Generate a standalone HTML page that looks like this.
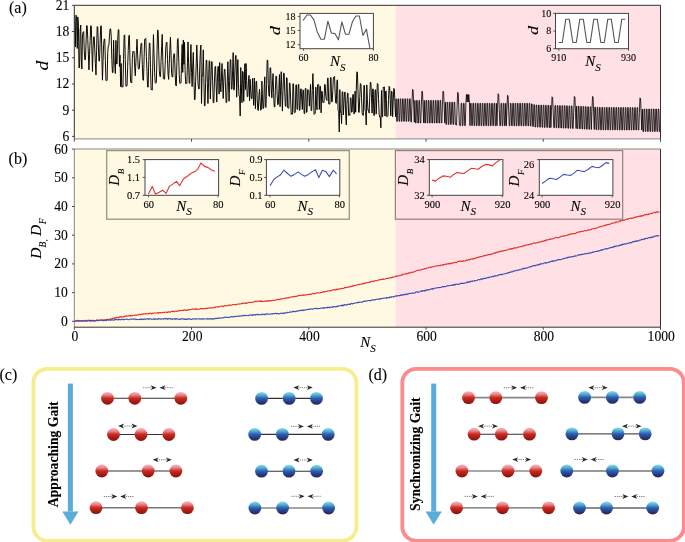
<!DOCTYPE html><html><head><meta charset="utf-8"><style>html,body{margin:0;padding:0;background:#fff;}svg{display:block;will-change:transform;} text{stroke:#000;stroke-width:0.1px;}</style></head><body><svg width="685" height="542" viewBox="0 0 685 542" font-family="'Liberation Serif', serif">
<defs><radialGradient id="rg" cx="0.5" cy="0.3" r="0.7"><stop offset="0" stop-color="#f6b8c0"/><stop offset="0.45" stop-color="#d32a2c"/><stop offset="1" stop-color="#7c1010"/></radialGradient><linearGradient id="rl" x1="0" y1="0" x2="0" y2="1"><stop offset="0" stop-color="#f6b3bb"/><stop offset="0.22" stop-color="#ec8c92"/><stop offset="0.5" stop-color="#c9291f"/><stop offset="0.85" stop-color="#9c1713"/><stop offset="1" stop-color="#821010"/></linearGradient><linearGradient id="bl" x1="0" y1="0" x2="0" y2="1"><stop offset="0" stop-color="#88dde4"/><stop offset="0.22" stop-color="#5ab2d6"/><stop offset="0.5" stop-color="#2a5eb2"/><stop offset="0.85" stop-color="#28316f"/><stop offset="1" stop-color="#2a2556"/></linearGradient></defs>
<rect width="685" height="542" fill="#fff"/>
<rect x="74.3" y="5.3" width="321.09999999999997" height="133.6" fill="#fff8e3"/>
<rect x="395.4" y="5.3" width="265.1" height="133.6" fill="#ffe1e5"/>
<polyline points="74.30,15.5 74.89,17.0 75.47,47.0 76.06,15.2 76.64,16.5 77.23,48.5 77.82,17.0 78.40,24.0 78.99,68.0 79.58,67.0 80.16,30.0 80.75,25.0 81.33,60.0 81.92,69.0 82.51,34.5 83.09,32.4 83.68,31.6 84.27,51.1 84.85,59.8 85.44,59.7 86.02,42.9 86.61,25.6 87.20,25.8 87.78,39.5 88.37,54.0 88.95,69.9 89.54,54.4 90.13,40.5 90.71,25.7 91.30,26.1 91.89,48.9 92.47,71.5 93.06,49.1 93.64,36.9 94.23,36.7 94.82,50.0 95.40,63.6 95.99,75.0 96.58,50.3 97.16,26.5 97.75,26.9 98.33,45.0 98.92,61.1 99.51,61.0 100.09,43.6 100.68,26.1 101.27,25.8 101.85,54.8 102.44,80.2 103.02,61.3 103.61,44.6 104.20,39.0 104.78,39.1 105.37,60.7 105.95,80.5 106.54,80.6 107.13,80.3 107.71,52.5 108.30,45.7 108.89,45.5 109.47,35.9 110.06,28.9 110.64,28.9 111.23,35.9 111.82,59.5 112.40,72.6 112.99,72.6 113.58,40.3 114.16,62.1 114.75,63.9 115.33,73.5 115.92,40.3 116.51,63.9 117.09,63.9 117.68,40.3 118.27,29.8 118.85,29.8 119.44,66.5 120.02,55.1 120.61,86.6 121.20,63.5 121.78,87.1 122.37,86.7 122.95,87.2 123.54,59.6 124.13,35.5 124.71,34.9 125.30,59.6 125.89,86.1 126.47,86.2 127.06,85.8 127.64,67.3 128.23,50.5 128.82,35.7 129.40,35.2 129.99,61.4 130.58,82.1 131.16,82.2 131.75,83.0 132.33,58.4 132.92,51.3 133.51,52.2 134.09,51.6 134.68,67.4 135.26,75.8 135.85,62.8 136.44,50.7 137.02,39.2 137.61,54.2 138.20,67.4 138.78,69.2 139.37,68.2 139.95,57.7 140.54,49.6 141.13,43.2 141.71,43.4 142.30,64.8 142.89,79.9 143.47,80.3 144.06,60.5 144.64,39.3 145.23,39.1 145.82,38.4 146.40,56.4 146.99,71.7 147.57,87.0 148.16,87.2 148.75,60.7 149.33,42.8 149.92,43.5 150.51,67.5 151.09,89.8 151.68,89.6 152.26,90.1 152.85,60.2 153.44,34.7 154.02,53.3 154.61,72.7 155.20,82.6 155.78,83.3 156.37,82.2 156.95,56.1 157.54,30.0 158.13,30.5 158.71,51.1 159.30,70.4 159.89,76.5 160.47,76.6 161.06,61.4 161.64,46.7 162.23,34.4 162.82,61.5 163.40,78.6 163.99,79.3 164.57,79.0 165.16,64.3 165.75,48.1 166.33,42.6 166.92,42.0 167.51,59.5 168.09,74.4 168.68,79.4 169.26,63.3 169.85,49.6 170.44,37.1 171.02,54.0 171.61,73.4 172.20,77.0 172.78,77.0 173.37,58.2 173.95,53.6 174.54,54.0 175.13,73.6 175.71,85.1 176.30,86.0 176.88,62.6 177.47,39.5 178.06,38.5 178.64,56.0 179.23,74.3 179.82,83.4 180.40,83.0 180.99,82.9 181.57,61.7 182.16,44.4 182.75,72.4 183.33,40.0 183.92,64.4 184.51,42.2 185.09,70.6 185.68,83.7 186.26,83.4 186.85,83.4 187.44,62.8 188.02,41.9 188.61,63.9 189.20,83.3 189.78,83.1 190.37,62.3 190.95,44.5 191.54,72.4 192.13,86.6 192.71,66.0 193.30,52.4 193.88,77.2 194.47,99.6 195.06,99.6 195.64,81.4 196.23,63.8 196.82,45.1 197.40,62.9 197.99,83.0 198.57,88.7 199.16,89.0 199.75,66.3 200.33,50.9 200.92,45.0 201.51,103.4 202.09,75.0 202.68,75.6 203.26,49.8 203.85,78.5 204.44,105.7 205.02,105.9 205.61,82.8 206.19,60.3 206.78,60.1 207.37,83.7 207.95,103.6 208.54,82.8 209.13,60.7 209.71,61.1 210.30,98.8 210.88,80.8 211.47,61.9 212.06,61.5 212.64,81.5 213.23,102.5 213.82,103.0 214.40,83.1 214.99,66.9 215.57,66.3 216.16,84.8 216.75,102.1 217.33,82.7 217.92,66.3 218.51,66.6 219.09,94.1 219.68,62.5 220.26,82.3 220.85,91.8 221.44,76.9 222.02,63.5 222.61,81.9 223.19,98.5 223.78,81.0 224.37,69.4 224.95,69.3 225.54,87.0 226.13,102.8 226.71,102.4 227.30,81.0 227.88,61.7 228.47,81.4 229.06,101.3 229.64,80.4 230.23,59.7 230.82,59.8 231.40,89.1 231.99,88.9 232.57,71.9 233.16,52.6 233.75,90.2 234.33,89.5 234.92,70.0 235.50,55.7 236.09,55.4 236.68,97.2 237.26,76.4 237.85,59.6 238.44,83.4 239.02,96.1 239.61,96.4 240.19,116.0 240.78,67.5 241.37,86.0 241.95,102.7 242.54,71.3 243.13,72.1 243.71,101.5 244.30,80.8 244.88,63.7 245.47,89.6 246.06,63.5 246.64,80.9 247.23,96.7 247.82,96.6 248.40,81.9 248.99,75.4 249.57,100.9 250.16,79.3 250.75,91.3 251.33,98.4 251.92,98.7 252.50,78.4 253.09,93.4 253.68,105.3 254.26,78.0 254.85,95.2 255.44,108.8 256.02,81.4 256.61,81.3 257.19,98.7 257.78,109.9 258.37,110.5 258.95,95.3 259.54,89.1 260.13,101.8 260.71,110.3 261.30,109.5 261.88,81.1 262.47,98.1 263.06,108.7 263.64,108.1 264.23,86.5 264.82,76.8 265.40,106.7 265.99,107.5 266.57,84.4 267.16,60.3 267.75,60.2 268.33,84.3 268.92,95.8 269.50,96.5 270.09,67.8 270.68,67.8 271.26,88.0 271.85,97.8 272.44,84.0 273.02,73.6 273.61,92.6 274.19,106.7 274.78,107.2 275.37,90.3 275.95,75.9 276.54,76.4 277.13,94.6 277.71,104.8 278.30,104.0 278.88,88.4 279.47,74.5 280.06,106.7 280.64,87.9 281.23,71.7 281.81,90.8 282.40,111.1 282.99,90.8 283.57,73.1 284.16,73.3 284.75,92.1 285.33,105.9 285.92,106.5 286.50,77.8 287.09,77.9 287.68,107.9 288.26,108.3 288.85,108.1 289.44,83.0 290.02,83.1 290.61,99.2 291.19,114.3 291.78,113.3 292.37,114.3 292.95,83.6 293.54,84.0 294.12,112.5 294.71,112.8 295.30,112.2 295.88,85.0 296.47,84.9 297.06,109.5 297.64,109.2 298.23,84.7 298.81,84.1 299.40,110.5 299.99,110.1 300.57,89.1 301.16,88.7 301.75,100.2 302.33,109.5 302.92,89.8 303.50,90.3 304.09,113.4 304.68,113.7 305.26,88.7 305.85,88.2 306.44,112.4 307.02,112.0 307.61,89.6 308.19,90.6 308.78,90.3 309.37,106.1 309.95,96.0 310.54,84.3 311.12,110.6 311.71,110.5 312.30,90.4 312.88,73.6 313.47,90.2 314.06,114.4 314.64,113.7 315.23,113.4 315.81,87.2 316.40,100.9 316.99,109.8 317.57,84.8 318.16,84.4 318.75,84.6 319.33,109.4 319.92,86.4 320.50,86.4 321.09,112.8 321.68,91.1 322.26,92.0 322.85,102.6 323.44,102.3 324.02,102.6 324.61,84.5 325.19,84.6 325.78,96.6 326.37,99.3 326.95,100.5 327.54,78.2 328.12,78.1 328.71,104.0 329.30,104.2 329.88,104.0 330.47,77.6 331.06,77.5 331.64,101.8 332.23,101.8 332.81,90.2 333.40,77.4 333.99,77.4 334.57,76.5 335.16,93.8 335.75,103.0 336.33,103.4 336.92,80.8 337.50,79.8 338.09,110.4 338.68,111.0 339.26,132.0 339.85,89.7 340.43,112.3 341.02,112.4 341.61,123.6 342.19,92.0 342.78,91.6 343.37,115.0 343.95,103.7 344.54,92.3 345.12,92.0 345.71,115.4 346.30,125.0 346.88,104.4 347.47,93.0 348.06,93.5 348.64,115.4 349.23,114.3 349.81,115.4 350.40,97.8 350.99,97.9 351.57,112.2 352.16,112.0 352.75,95.0 353.33,94.2 353.92,114.1 354.50,113.4 355.09,91.2 355.68,112.2 356.26,90.0 356.85,71.8 357.43,72.6 358.02,92.0 358.61,112.2 359.19,112.4 359.78,96.5 360.37,83.5 360.95,84.3 361.54,97.9 362.12,112.4 362.71,115.1 363.30,115.3 363.88,85.4 364.47,85.5 365.06,110.3 365.64,111.1 366.23,125.0 366.81,84.9 367.40,99.6 367.99,110.6 368.57,110.1 369.16,113.1 369.74,96.0 370.33,82.1 370.92,82.9 371.50,97.6 372.09,113.1 372.68,88.9 373.26,89.0 373.85,115.5 374.43,115.3 375.02,90.2 375.61,89.7 376.19,114.1 376.78,97.3 377.37,83.5 377.95,84.3 378.54,98.8 379.12,114.1 379.71,117.1 380.30,116.9 380.88,127.8 381.47,90.5 382.06,116.7 382.64,116.8 383.23,87.0 383.81,87.3 384.40,86.9 384.99,116.1 385.57,91.6 386.16,90.8 386.74,116.7 387.33,116.5 387.92,115.9 388.50,99.6 389.09,86.3 389.68,87.1 390.26,101.1 390.85,115.9 391.43,91.1 392.02,91.9 392.61,116.7 393.19,101.1 393.78,88.4 394.37,89.2 394.95,102.5 395.54,116.7" fill="none" stroke="#000" stroke-width="0.95" stroke-linejoin="round"/>
<polyline points="395.54,116.7 396.12,98.8 396.71,121.3 397.30,121.3 397.88,98.8 398.47,98.8 399.05,121.3 399.64,121.3 400.23,98.8 400.81,98.8 401.40,121.3 401.99,121.3 402.57,98.8 403.16,98.8 403.74,121.3 404.33,121.3 404.92,98.8 405.50,98.8 406.09,121.3 406.68,121.3 407.26,98.8 407.85,98.8 408.43,121.3 409.02,121.3 409.61,98.8 410.19,98.8 410.78,121.3 411.37,122.2 411.95,104.1 412.54,89.3 413.12,90.1 413.71,105.8 414.30,122.2 414.88,100.4 415.47,123.0 416.05,123.0 416.64,100.4 417.23,100.4 417.81,123.0 418.40,123.0 418.99,100.4 419.57,100.4 420.16,123.0 420.74,123.0 421.33,105.5 421.92,91.1 422.50,91.9 423.09,107.0 423.68,123.0 424.26,100.4 424.85,123.0 425.43,123.0 426.02,100.4 426.61,100.4 427.19,123.0 427.78,123.0 428.36,100.4 428.95,100.4 429.54,123.0 430.12,123.0 430.71,100.4 431.30,100.4 431.88,123.0 432.47,123.0 433.05,100.4 433.64,100.4 434.23,123.0 434.81,123.0 435.40,100.4 435.99,100.4 436.57,123.0 437.16,123.0 437.74,100.4 438.33,100.4 438.92,123.0 439.50,123.0 440.09,100.4 440.68,100.4 441.26,123.0 441.85,123.0 442.43,105.5 443.02,91.1 443.61,91.9 444.19,107.1 444.78,123.0 445.36,102.2 445.95,124.4 446.54,124.4 447.12,102.2 447.71,102.2 448.30,124.4 448.88,124.4 449.47,102.2 450.05,102.2 450.64,124.4 451.23,124.4 451.81,102.2 452.40,102.2 452.99,124.4 453.57,124.4 454.16,102.2 454.74,102.2 455.33,124.4 455.92,124.4 456.50,125.2 457.09,107.1 457.67,92.3 458.26,93.1 458.85,108.8 459.43,125.2 460.02,125.6 460.61,125.6 461.19,103.3 461.78,103.3 462.36,125.6 462.95,125.6 463.54,103.3 464.12,103.3 464.71,125.6 465.30,125.6 465.88,103.3 466.47,94.5 467.05,102.0 467.64,94.5 468.23,102.0 468.81,94.5 469.40,102.0 469.99,125.6 470.57,103.3 471.16,103.3 471.74,125.6 472.33,125.6 472.92,103.3 473.50,103.3 474.09,125.6 474.67,125.6 475.26,103.3 475.85,103.3 476.43,125.7 477.02,125.7 477.61,103.3 478.19,103.3 478.78,125.7 479.36,125.7 479.95,103.3 480.54,103.3 481.12,125.7 481.71,125.7 482.30,103.3 482.88,103.3 483.47,125.7 484.05,125.7 484.64,103.3 485.23,103.3 485.81,125.7 486.40,125.7 486.98,103.3 487.57,103.3 488.16,125.7 488.74,125.7 489.33,103.3 489.92,103.3 490.50,125.7 491.09,125.7 491.67,103.3 492.26,103.3 492.85,125.7 493.43,125.7 494.02,103.3 494.61,103.3 495.19,125.7 495.78,125.7 496.36,103.3 496.95,125.7 497.54,108.1 498.12,93.7 498.71,94.5 499.30,109.7 499.88,125.7 500.47,125.7 501.05,103.3 501.64,103.3 502.23,125.7 502.81,125.7 503.40,103.3 503.98,103.3 504.57,125.7 505.16,125.7 505.74,103.3 506.33,125.7 506.92,108.9 507.50,95.2 508.09,96.0 508.67,110.5 509.26,125.7 509.85,125.7 510.43,103.3 511.02,103.3 511.61,125.7 512.19,125.8 512.78,103.3 513.36,103.3 513.95,125.8 514.54,125.8 515.12,103.3 515.71,103.3 516.29,125.8 516.88,125.8 517.47,103.3 518.05,103.3 518.64,125.8 519.23,125.8 519.81,103.3 520.40,103.3 520.98,125.8 521.57,125.8 522.16,103.3 522.74,103.3 523.33,125.8 523.92,125.8 524.50,103.3 525.09,103.3 525.67,125.8 526.26,125.8 526.85,103.3 527.43,103.3 528.02,125.8 528.61,125.8 529.19,103.3 529.78,103.3 530.36,125.9 530.95,126.0 531.54,103.8 532.12,104.0 532.71,126.5 533.29,126.6 533.88,104.6 534.47,104.8 535.05,127.0 535.64,127.0 536.23,105.0 536.81,105.0 537.40,127.1 537.98,127.1 538.57,105.1 539.16,105.1 539.74,127.2 540.33,127.2 540.92,105.1 541.50,105.2 542.09,127.3 542.67,127.3 543.26,105.2 543.85,105.2 544.43,127.4 545.02,127.4 545.60,105.3 546.19,105.3 546.78,127.4 547.36,127.5 547.95,105.3 548.54,105.3 549.12,127.5 549.71,127.6 550.29,105.4 550.88,127.6 551.47,110.7 552.05,96.8 552.64,97.6 553.23,112.2 553.81,127.6 554.40,127.7 554.98,105.5 555.57,105.5 556.16,127.8 556.74,127.8 557.33,105.6 557.92,105.6 558.50,127.9 559.09,127.9 559.67,105.6 560.26,105.6 560.85,128.0 561.43,128.0 562.02,105.7 562.60,105.7 563.19,128.1 563.78,128.1 564.36,105.7 564.95,105.7 565.54,128.1 566.12,128.2 566.71,105.8 567.29,105.8 567.88,128.2 568.47,128.3 569.05,105.9 569.64,105.9 570.23,128.3 570.81,128.3 571.40,105.9 571.98,105.9 572.57,128.4 573.16,128.5 573.74,110.8 574.33,96.4 574.91,97.2 575.50,112.4 576.09,128.5 576.67,106.1 577.26,128.6 577.85,128.7 578.43,106.2 579.02,106.2 579.60,128.8 580.19,128.8 580.78,106.3 581.36,106.4 581.95,128.9 582.54,128.9 583.12,106.5 583.71,106.5 584.29,129.0 584.88,129.1 585.47,106.6 586.05,106.6 586.64,129.2 587.23,129.2 587.81,106.7 588.40,106.8 588.98,129.3 589.57,129.3 590.16,106.8 590.74,106.9 591.33,129.5 591.91,111.3 592.50,96.4 593.09,97.2 593.67,112.9 594.26,129.5 594.85,107.1 595.43,107.1 596.02,129.7 596.60,129.7 597.19,107.2 597.78,107.3 598.36,129.8 598.95,129.8 599.54,107.4 600.12,107.4 600.71,129.9 601.29,129.9 601.88,107.4 602.47,107.4 603.05,129.9 603.64,129.9 604.22,107.4 604.81,107.4 605.40,129.9 605.98,129.9 606.57,107.4 607.16,107.4 607.74,129.9 608.33,129.9 608.91,107.4 609.50,107.4 610.09,129.9 610.67,129.9 611.26,107.5 611.85,107.5 612.43,129.9 613.02,129.9 613.60,107.5 614.19,107.5 614.78,129.9 615.36,129.9 615.95,107.5 616.53,107.5 617.12,129.9 617.71,129.9 618.29,107.5 618.88,107.5 619.47,129.9 620.05,130.0 620.64,107.5 621.22,107.5 621.81,130.0 622.40,130.0 622.98,107.5 623.57,107.5 624.16,130.0 624.74,130.0 625.33,107.5 625.91,107.5 626.50,130.0 627.09,130.0 627.67,107.5 628.26,107.5 628.85,130.0 629.43,130.0 630.02,107.6 630.60,107.6 631.19,130.0 631.78,130.0 632.36,107.6 632.95,107.6 633.53,130.0 634.12,130.0 634.71,107.6 635.29,107.6 635.88,130.0 636.47,130.0 637.05,107.6 637.64,107.6 638.22,130.0 638.81,130.0 639.40,112.3 639.98,97.8 640.57,98.6 641.16,113.9 641.74,130.0 642.33,109.0 642.91,131.5 643.50,131.5 644.09,109.0 644.67,109.0 645.26,131.5 645.84,131.5 646.43,109.0 647.02,109.0 647.60,131.5 648.19,131.5 648.78,109.0 649.36,109.0 649.95,131.5 650.53,131.5 651.12,109.0 651.71,109.0 652.29,131.5 652.88,131.5 653.47,109.0 654.05,109.0 654.64,131.5 655.22,131.5 655.81,109.0 656.40,109.0 656.98,131.5 657.57,131.5 658.16,109.0 658.74,109.0 659.33,131.5 659.91,131.5 660.50,109.0" fill="none" stroke="#000" stroke-width="0.82" stroke-linejoin="round"/>
<path d="M74.3,138.9 V5.3 H660.5 V138.9" fill="none" stroke="#333" stroke-width="1"/>
<path d="M74.3,138.9 H660.5" fill="none" stroke="#888" stroke-width="1"/>
<path d="M72.0,5.30H74.3M72.0,31.52H74.3M72.0,57.74H74.3M72.0,83.96H74.3M72.0,110.18H74.3M72.0,136.40H74.3M74.30,138.9V141.70000000000002M191.54,138.9V141.70000000000002M308.78,138.9V141.70000000000002M426.02,138.9V141.70000000000002M543.26,138.9V141.70000000000002M660.50,138.9V141.70000000000002" stroke="#333" stroke-width="0.9"/>
<text x="69.3" y="9.80" font-size="13.6" text-anchor="end">21</text>
<text x="69.3" y="36.02" font-size="13.6" text-anchor="end">18</text>
<text x="69.3" y="62.24" font-size="13.6" text-anchor="end">15</text>
<text x="69.3" y="88.46" font-size="13.6" text-anchor="end">12</text>
<text x="69.3" y="114.68" font-size="13.6" text-anchor="end">9</text>
<text x="69.3" y="140.90" font-size="13.6" text-anchor="end">6</text>
<text transform="translate(47.90,65.5) rotate(-90) scale(1.2,1)" font-size="16.3" font-style="italic" text-anchor="middle">d</text>
<text x="9" y="12.6" font-size="16">(a)</text>
<rect x="300" y="13.4" width="73.39999999999998" height="35.300000000000004" fill="#fff" stroke="#444" stroke-width="1"/>
<polyline points="303.1,20.5 306.9,15.0 310.4,15.0 313.9,19.9 317.4,32.3 320.9,39.2 324.4,39.2 327.9,21.2 331.4,33.0 334.9,33.6 338.4,39.8 341.9,21.8 345.4,34.2 348.9,34.2 352.4,21.8 355.9,16.0 359.4,16.0 362.9,35.4 366.4,29.2 369.9,48.5" fill="none" stroke="#555" stroke-width="1.1" stroke-linejoin="round"/>
<path d="M297.7,16.45H300M297.7,30.5H300M297.7,44.7H300M303.4,48.7V50.7M373.4,48.7V50.7" stroke="#444" stroke-width="0.9"/>
<text x="295.6" y="19.8" font-size="10" text-anchor="end">18</text>
<text x="295.6" y="33.8" font-size="10" text-anchor="end">15</text>
<text x="295.6" y="48.0" font-size="10" text-anchor="end">12</text>
<text x="303.4" y="60.7" font-size="10" text-anchor="middle">60</text>
<text x="373.4" y="60.7" font-size="10" text-anchor="middle">80</text>
<text transform="translate(280.30,30.65) rotate(-90) scale(1.22,1)" font-size="15" font-style="italic" text-anchor="middle">d</text>
<text x="330.10" y="66.00" font-size="15" font-style="italic">N<tspan font-size="11" dy="4.5">S</tspan></text>
<rect x="555.5" y="13.4" width="73.0" height="35.300000000000004" fill="#fff" stroke="#444" stroke-width="1"/>
<polyline points="558.8,42.5 562.3,42.5 565.8,19.2 569.3,19.2 572.8,42.5 576.3,42.5 579.8,19.2 583.3,19.2 586.8,42.5 590.3,42.5 593.8,19.2 597.3,19.2 600.8,42.5 604.3,42.5 607.8,19.2 611.3,19.2 614.8,42.5 618.3,42.5 621.8,19.2 625.3,19.2" fill="none" stroke="#555" stroke-width="1.1" stroke-linejoin="round"/>
<path d="M553.2,13.4H555.5M553.2,31.05H555.5M553.2,48.7H555.5M558.8,48.7V50.7M628.5,48.7V50.7" stroke="#444" stroke-width="0.9"/>
<text x="551.3" y="16.7" font-size="10" text-anchor="end">10</text>
<text x="551.3" y="34.4" font-size="10" text-anchor="end">8</text>
<text x="551.3" y="52.0" font-size="10" text-anchor="end">6</text>
<text x="558.8" y="60.7" font-size="10" text-anchor="middle">910</text>
<text x="628.5" y="60.7" font-size="10" text-anchor="middle">930</text>
<text transform="translate(538.00,30.35) rotate(-90) scale(1.22,1)" font-size="15" font-style="italic" text-anchor="middle">d</text>
<text x="585.20" y="66.00" font-size="15" font-style="italic">N<tspan font-size="11" dy="4.5">S</tspan></text>
<rect x="74.3" y="149.0" width="321.09999999999997" height="178.2" fill="#fff8e3"/>
<rect x="395.4" y="149.0" width="265.1" height="178.2" fill="#ffe1e5"/>
<polyline points="74.30,320.56 74.90,320.83 75.50,320.66 76.10,320.86 76.70,320.87 77.30,320.36 77.90,320.30 78.50,321.03 79.10,320.50 79.70,320.47 80.30,321.14 80.90,320.66 81.50,320.98 82.10,320.64 82.70,320.78 83.30,320.33 83.90,320.76 84.50,320.95 85.10,320.63 85.70,320.82 86.30,320.75 86.90,320.19 87.50,320.80 88.10,320.64 88.70,320.37 89.30,320.12 89.90,320.86 90.50,320.49 91.10,320.71 91.70,320.84 92.30,320.68 92.90,320.86 93.50,320.37 94.10,320.73 94.70,320.40 95.30,320.83 95.90,320.77 96.50,320.05 97.10,320.08 97.70,320.11 98.30,320.73 98.90,320.19 99.50,320.30 100.10,319.94 100.70,320.07 101.30,319.89 101.90,319.80 102.50,319.95 103.10,319.89 103.70,320.11 104.30,319.85 104.90,320.01 105.50,319.88 106.10,319.94 106.70,319.59 107.30,319.07 107.90,319.64 108.50,319.67 109.10,319.54 109.70,319.12 110.30,319.14 110.90,318.57 111.50,319.01 112.10,318.66 112.70,318.28 113.30,317.96 113.90,318.56 114.50,318.56 115.10,317.63 115.70,318.15 116.30,317.68 116.90,317.33 117.50,317.34 118.10,317.65 118.70,317.63 119.30,316.76 119.90,317.16 120.50,316.53 121.10,317.05 121.70,316.62 122.30,317.04 122.90,317.06 123.50,316.56 124.10,316.93 124.70,316.23 125.30,315.95 125.90,316.34 126.50,315.76 127.10,315.83 127.70,315.95 128.30,316.05 128.90,315.57 129.50,315.39 130.10,316.06 130.70,315.49 131.30,315.99 131.90,315.86 132.50,315.32 133.10,315.32 133.70,315.30 134.30,315.34 134.90,315.22 135.50,315.11 136.10,315.09 136.70,315.31 137.30,314.84 137.90,314.70 138.50,314.88 139.10,314.37 139.70,314.36 140.30,314.89 140.90,314.40 141.50,314.35 142.10,313.80 142.70,314.09 143.30,314.16 143.90,313.58 144.50,314.07 145.10,314.03 145.70,313.47 146.30,313.94 146.90,313.75 147.50,313.89 148.10,313.55 148.70,313.83 149.30,313.81 149.90,313.12 150.50,313.11 151.10,313.61 151.70,313.83 152.30,313.14 152.90,313.28 153.50,313.36 154.10,313.06 154.70,313.06 155.30,312.97 155.90,312.97 156.50,313.13 157.10,312.82 157.70,312.84 158.30,313.15 158.90,312.43 159.50,312.88 160.10,312.98 160.70,312.55 161.30,312.43 161.90,312.90 162.50,312.35 163.10,312.26 163.70,312.43 164.30,312.62 164.90,312.04 165.50,312.19 166.10,312.16 166.70,312.56 167.30,312.16 167.90,312.47 168.50,311.78 169.10,311.86 169.70,312.07 170.30,312.21 170.90,311.75 171.50,311.47 172.10,311.31 172.70,311.60 173.30,311.22 173.90,311.71 174.50,311.66 175.10,311.00 175.70,311.02 176.30,311.42 176.90,311.20 177.50,311.27 178.10,310.79 178.70,310.52 179.30,310.59 179.90,310.97 180.50,310.43 181.10,310.43 181.70,310.42 182.30,310.35 182.90,310.27 183.50,310.66 184.10,309.90 184.70,309.69 185.30,310.46 185.90,310.33 186.50,310.35 187.10,309.79 187.70,310.18 188.30,310.09 188.90,309.38 189.50,309.78 190.10,309.79 190.70,309.56 191.30,309.39 191.90,309.14 192.50,309.16 193.10,309.02 193.70,308.84 194.30,309.27 194.90,308.96 195.50,309.40 196.10,308.67 196.70,309.41 197.30,309.19 197.90,309.36 198.50,309.30 199.10,309.26 199.70,308.94 200.30,308.39 200.90,309.02 201.50,308.46 202.10,308.54 202.70,308.83 203.30,308.64 203.90,308.48 204.50,308.89 205.10,308.53 205.70,308.23 206.30,308.09 206.90,308.57 207.50,308.17 208.10,308.38 208.70,307.93 209.30,307.73 209.90,307.97 210.50,308.16 211.10,307.52 211.70,308.02 212.30,308.07 212.90,307.91 213.50,307.86 214.10,307.07 214.70,307.55 215.30,307.67 215.90,306.85 216.50,306.97 217.10,306.88 217.70,307.03 218.30,306.85 218.90,306.81 219.50,307.00 220.10,306.22 220.70,306.18 221.30,306.16 221.90,306.07 222.50,305.94 223.10,306.67 223.70,306.48 224.30,305.70 224.90,305.99 225.50,305.74 226.10,305.65 226.70,305.60 227.30,305.78 227.90,305.64 228.50,305.35 229.10,305.11 229.70,305.15 230.30,304.88 230.90,305.19 231.50,305.25 232.10,304.86 232.70,304.51 233.30,304.51 233.90,304.60 234.50,304.72 235.10,304.80 235.70,304.35 236.30,304.64 236.90,304.39 237.50,304.14 238.10,304.00 238.70,304.02 239.30,304.12 239.90,303.78 240.50,303.94 241.10,303.65 241.70,303.37 242.30,303.54 242.90,303.60 243.50,302.95 244.10,303.18 244.70,303.10 245.30,303.42 245.90,303.39 246.50,302.79 247.10,303.18 247.70,303.00 248.30,302.43 248.90,302.53 249.50,302.14 250.10,302.67 250.70,302.45 251.30,302.57 251.90,302.39 252.50,302.20 253.10,302.17 253.70,301.93 254.30,301.43 254.90,301.78 255.50,301.17 256.10,301.21 256.70,301.73 257.30,301.04 257.90,301.05 258.50,301.03 259.10,301.70 259.70,301.04 260.30,300.87 260.90,301.57 261.50,300.89 262.10,301.51 262.70,301.33 263.30,301.45 263.90,301.52 264.50,301.15 265.10,301.32 265.70,300.60 266.30,301.23 266.90,300.97 267.50,301.12 268.10,300.54 268.70,301.09 269.30,301.23 269.90,300.41 270.50,300.62 271.10,300.80 271.70,301.01 272.30,300.41 272.90,300.24 273.50,300.20 274.10,300.41 274.70,300.43 275.30,299.99 275.90,299.86 276.50,299.77 277.10,299.62 277.70,299.57 278.30,299.16 278.90,299.42 279.50,299.73 280.10,299.12 280.70,299.31 281.30,298.67 281.90,299.03 282.50,298.98 283.10,298.80 283.70,298.54 284.30,298.40 284.90,298.43 285.50,298.55 286.10,297.77 286.70,297.61 287.30,298.08 287.90,298.12 288.50,297.65 289.10,297.47 289.70,297.61 290.30,297.02 290.90,296.98 291.50,296.81 292.10,297.05 292.70,296.69 293.30,296.50 293.90,296.81 294.50,296.93 295.10,296.23 295.70,296.48 296.30,296.13 296.90,296.44 297.50,296.10 298.10,295.73 298.70,295.59 299.30,295.32 299.90,295.64 300.50,295.46 301.10,295.18 301.70,295.26 302.30,295.14 302.90,295.45 303.50,294.79 304.10,295.46 304.70,294.91 305.30,294.93 305.90,294.72 306.50,294.96 307.10,294.86 307.70,294.53 308.30,294.37 308.90,294.49 309.50,294.52 310.10,294.02 310.70,294.23 311.30,294.34 311.90,293.81 312.50,293.50 313.10,293.41 313.70,293.76 314.30,293.63 314.90,293.79 315.50,293.61 316.10,292.97 316.70,292.83 317.30,292.80 317.90,292.64 318.50,293.02 319.10,293.06 319.70,293.01 320.30,292.34 320.90,292.80 321.50,292.21 322.10,292.21 322.70,292.37 323.30,291.67 323.90,291.56 324.50,292.10 325.10,291.50 325.70,291.44 326.30,291.52 326.90,291.49 327.50,290.76 328.10,290.94 328.70,290.91 329.30,290.84 329.90,290.47 330.50,290.69 331.10,290.90 331.70,290.28 332.30,290.30 332.90,289.79 333.50,289.81 334.10,290.05 334.70,289.43 335.30,290.01 335.90,289.91 336.50,289.06 337.10,289.70 337.70,289.07 338.30,289.31 338.90,289.18 339.50,288.64 340.10,288.87 340.70,288.73 341.30,288.74 341.90,288.14 342.50,288.46 343.10,288.53 343.70,288.15 344.30,287.91 344.90,287.41 345.50,287.63 346.10,287.38 346.70,287.59 347.30,287.44 347.90,287.22 348.50,286.74 349.10,287.02 349.70,286.87 350.30,286.32 350.90,286.82 351.50,286.47 352.10,285.86 352.70,286.44 353.30,285.59 353.90,285.63 354.50,285.84 355.10,285.59 355.70,285.41 356.30,285.35 356.90,285.04 357.50,284.77 358.10,284.51 358.70,284.28 359.30,284.72 359.90,284.62 360.50,284.29 361.10,284.32 361.70,283.84 362.30,283.62 362.90,283.59 363.50,283.89 364.10,283.00 364.70,283.28 365.30,282.91 365.90,283.24 366.50,282.72 367.10,282.57 367.70,282.49 368.30,282.48 368.90,282.54 369.50,282.03 370.10,282.33 370.70,281.53 371.30,281.54 371.90,281.24 372.50,281.12 373.10,281.58 373.70,281.39 374.30,280.76 374.90,280.64 375.50,280.72 376.10,280.88 376.70,280.82 377.30,280.64 377.90,280.37 378.50,279.84 379.10,279.94 379.70,279.63 380.30,279.81 380.90,279.72 381.50,279.27 382.10,279.18 382.70,279.54 383.30,278.73 383.90,279.30 384.50,279.26 385.10,279.18 385.70,278.55 386.30,278.57 386.90,278.48 387.50,278.40 388.10,278.58 388.70,278.19 389.30,277.72 389.90,278.10 390.50,277.63 391.10,277.61 391.70,277.60 392.30,276.82 392.90,277.39 393.50,277.16 394.10,276.89 394.70,276.79 395.30,276.61 395.90,276.22 396.50,276.36 397.10,275.75 397.70,276.01 398.30,275.98 398.90,275.63 399.50,275.58 400.10,275.77 400.70,275.55 401.30,274.71 401.90,275.14 402.50,274.82 403.10,274.15 403.70,274.26 404.30,273.99 404.90,273.69 405.50,273.94 406.10,274.13 406.70,273.42 407.30,273.75 407.90,273.43 408.50,272.77 409.10,273.26 409.70,272.86 410.30,273.00 410.90,272.64 411.50,272.50 412.10,271.99 412.70,272.24 413.30,272.19 413.90,271.97 414.50,271.42 415.10,271.55 415.70,271.14 416.30,270.64 416.90,270.42 417.50,270.29 418.10,270.24 418.70,270.04 419.30,270.18 419.90,270.20 420.50,269.90 421.10,269.63 421.70,269.67 422.30,269.20 422.90,269.18 423.50,269.29 424.10,268.80 424.70,268.44 425.30,268.93 425.90,268.61 426.50,268.14 427.10,268.02 427.70,268.05 428.30,267.99 428.90,267.53 429.50,267.21 430.10,267.28 430.70,267.67 431.30,266.98 431.90,267.14 432.50,266.79 433.10,266.68 433.70,266.52 434.30,266.61 434.90,266.28 435.50,266.03 436.10,265.99 436.70,265.92 437.30,266.09 437.90,265.58 438.50,265.43 439.10,265.69 439.70,265.54 440.30,265.68 440.90,264.98 441.50,265.17 442.10,265.05 442.70,264.59 443.30,265.32 443.90,264.53 444.50,264.29 445.10,264.52 445.70,264.12 446.30,264.41 446.90,264.04 447.50,263.72 448.10,263.54 448.70,264.02 449.30,263.50 449.90,263.84 450.50,263.43 451.10,263.73 451.70,263.04 452.30,262.87 452.90,262.77 453.50,263.14 454.10,262.86 454.70,262.48 455.30,262.13 455.90,262.54 456.50,262.68 457.10,262.22 457.70,261.57 458.30,261.48 458.90,261.41 459.50,261.36 460.10,261.12 460.70,261.02 461.30,261.44 461.90,261.54 462.50,260.79 463.10,261.37 463.70,260.80 464.30,260.97 464.90,260.96 465.50,260.86 466.10,259.92 466.70,260.04 467.30,260.20 467.90,260.38 468.50,259.48 469.10,259.51 469.70,259.85 470.30,259.04 470.90,259.13 471.50,258.92 472.10,259.08 472.70,259.15 473.30,258.32 473.90,258.67 474.50,258.51 475.10,258.45 475.70,258.04 476.30,258.22 476.90,257.56 477.50,257.45 478.10,257.13 478.70,257.47 479.30,257.04 479.90,256.70 480.50,256.45 481.10,256.79 481.70,256.54 482.30,256.48 482.90,256.03 483.50,255.96 484.10,255.51 484.70,255.86 485.30,255.08 485.90,255.33 486.50,255.43 487.10,255.21 487.70,254.53 488.30,254.50 488.90,254.89 489.50,254.56 490.10,254.61 490.70,254.45 491.30,253.92 491.90,254.16 492.50,253.86 493.10,253.35 493.70,253.23 494.30,252.80 494.90,252.94 495.50,253.29 496.10,252.37 496.70,252.63 497.30,252.06 497.90,251.88 498.50,252.24 499.10,251.72 499.70,251.39 500.30,251.33 500.90,251.61 501.50,251.41 502.10,250.73 502.70,250.78 503.30,251.29 503.90,250.46 504.50,250.61 505.10,250.33 505.70,250.51 506.30,250.20 506.90,250.22 507.50,249.84 508.10,249.38 508.70,249.22 509.30,248.99 509.90,249.51 510.50,248.72 511.10,248.49 511.70,249.19 512.30,248.36 512.90,248.83 513.50,247.96 514.10,248.15 514.70,247.79 515.30,248.19 515.90,247.84 516.50,247.72 517.10,247.68 517.70,247.63 518.30,247.01 518.90,247.10 519.50,246.81 520.10,246.36 520.70,246.86 521.30,246.50 521.90,246.55 522.50,245.85 523.10,246.00 523.70,245.79 524.30,245.88 524.90,245.14 525.50,245.24 526.10,245.22 526.70,244.70 527.30,244.98 527.90,245.00 528.50,244.57 529.10,244.62 529.70,244.44 530.30,243.94 530.90,243.91 531.50,244.35 532.10,243.60 532.70,243.54 533.30,243.08 533.90,243.06 534.50,242.86 535.10,243.40 535.70,243.07 536.30,243.06 536.90,243.01 537.50,242.52 538.10,242.66 538.70,242.16 539.30,241.91 539.90,242.24 540.50,242.05 541.10,241.94 541.70,241.38 542.30,241.49 542.90,241.01 543.50,241.39 544.10,241.18 544.70,240.46 545.30,240.89 545.90,240.07 546.50,239.85 547.10,240.26 547.70,239.73 548.30,239.79 548.90,239.75 549.50,239.06 550.10,239.55 550.70,238.98 551.30,238.97 551.90,238.75 552.50,238.96 553.10,238.81 553.70,238.25 554.30,237.94 554.90,237.97 555.50,237.92 556.10,237.48 556.70,237.40 557.30,237.80 557.90,237.60 558.50,237.70 559.10,237.55 559.70,237.31 560.30,236.71 560.90,236.38 561.50,236.36 562.10,236.35 562.70,236.26 563.30,236.13 563.90,235.82 564.50,236.12 565.10,235.46 565.70,235.47 566.30,235.71 566.90,235.49 567.50,234.88 568.10,234.68 568.70,235.05 569.30,234.18 569.90,234.14 570.50,234.36 571.10,234.21 571.70,233.73 572.30,233.48 572.90,233.47 573.50,233.84 574.10,233.42 574.70,233.73 575.30,233.41 575.90,233.44 576.50,232.44 577.10,232.43 577.70,232.13 578.30,232.36 578.90,232.12 579.50,231.72 580.10,232.02 580.70,231.47 581.30,231.53 581.90,231.33 582.50,231.69 583.10,231.20 583.70,230.92 584.30,230.58 584.90,230.79 585.50,230.83 586.10,230.73 586.70,230.81 587.30,230.57 587.90,229.93 588.50,229.69 589.10,230.11 589.70,229.99 590.30,229.60 590.90,229.74 591.50,229.32 592.10,228.90 592.70,228.63 593.30,228.32 593.90,228.71 594.50,228.76 595.10,228.60 595.70,228.03 596.30,228.04 596.90,228.10 597.50,227.83 598.10,227.46 598.70,227.12 599.30,227.04 599.90,226.56 600.50,226.40 601.10,226.67 601.70,226.78 602.30,226.21 602.90,225.91 603.50,225.69 604.10,225.61 604.70,225.75 605.30,225.26 605.90,225.54 606.50,224.65 607.10,224.62 607.70,224.63 608.30,224.36 608.90,224.58 609.50,224.39 610.10,224.31 610.70,223.85 611.30,223.15 611.90,223.47 612.50,223.28 613.10,223.05 613.70,222.69 614.30,222.90 614.90,222.91 615.50,222.01 616.10,222.35 616.70,221.91 617.30,221.86 617.90,222.03 618.50,221.92 619.10,221.46 619.70,220.89 620.30,221.37 620.90,220.53 621.50,220.55 622.10,220.80 622.70,220.20 623.30,220.01 623.90,220.48 624.50,220.33 625.10,219.62 625.70,219.55 626.30,219.30 626.90,219.02 627.50,218.99 628.10,219.50 628.70,218.54 629.30,218.54 629.90,218.36 630.50,218.11 631.10,218.37 631.70,218.42 632.30,218.36 632.90,218.03 633.50,218.06 634.10,217.18 634.70,217.29 635.30,217.75 635.90,216.81 636.50,216.84 637.10,216.89 637.70,216.55 638.30,216.66 638.90,216.06 639.50,216.09 640.10,216.60 640.70,215.72 641.30,216.26 641.90,215.46 642.50,216.05 643.10,215.62 643.70,215.45 644.30,214.85 644.90,214.63 645.50,215.12 646.10,214.45 646.70,214.32 647.30,214.74 647.90,214.65 648.50,213.76 649.10,214.44 649.70,213.91 650.30,213.63 650.90,213.24 651.50,213.35 652.10,213.74 652.70,212.96 653.30,212.68 653.90,212.55 654.50,212.39 655.10,212.45 655.70,212.81 656.30,211.91 656.90,211.87 657.50,212.40 658.10,212.31 658.70,212.15 659.30,211.34" fill="none" stroke="#e0332f" stroke-width="1.1" stroke-linejoin="round"/>
<polyline points="74.30,320.97 74.90,321.49 75.50,321.06 76.10,321.24 76.70,320.88 77.30,320.60 77.90,320.88 78.50,321.23 79.10,321.25 79.70,321.05 80.30,320.94 80.90,320.99 81.50,320.89 82.10,320.96 82.70,321.22 83.30,320.64 83.90,320.98 84.50,321.27 85.10,321.18 85.70,320.56 86.30,321.26 86.90,321.13 87.50,320.52 88.10,320.59 88.70,320.52 89.30,320.37 89.90,321.19 90.50,320.67 91.10,321.07 91.70,320.38 92.30,320.27 92.90,321.03 93.50,320.95 94.10,321.11 94.70,320.83 95.30,320.67 95.90,320.87 96.50,320.25 97.10,320.64 97.70,320.53 98.30,320.24 98.90,320.61 99.50,320.33 100.10,320.47 100.70,320.32 101.30,320.24 101.90,320.24 102.50,320.43 103.10,320.74 103.70,320.67 104.30,320.57 104.90,320.52 105.50,319.99 106.10,320.58 106.70,319.91 107.30,319.75 107.90,320.06 108.50,320.24 109.10,319.85 109.70,320.10 110.30,319.74 110.90,320.32 111.50,319.83 112.10,319.82 112.70,319.84 113.30,320.12 113.90,320.19 114.50,319.74 115.10,319.64 115.70,319.76 116.30,319.24 116.90,319.53 117.50,319.88 118.10,319.78 118.70,319.11 119.30,319.79 119.90,319.34 120.50,319.84 121.10,319.28 121.70,319.13 122.30,319.43 122.90,319.73 123.50,319.31 124.10,319.70 124.70,319.56 125.30,319.24 125.90,319.18 126.50,319.36 127.10,319.25 127.70,319.23 128.30,319.47 128.90,319.67 129.50,319.40 130.10,319.00 130.70,319.06 131.30,319.19 131.90,319.41 132.50,318.97 133.10,318.92 133.70,319.13 134.30,319.09 134.90,318.85 135.50,319.31 136.10,319.65 136.70,319.29 137.30,319.47 137.90,319.55 138.50,319.55 139.10,319.61 139.70,319.18 140.30,319.40 140.90,318.89 141.50,319.56 142.10,319.11 142.70,319.19 143.30,319.56 143.90,319.01 144.50,318.91 145.10,319.47 145.70,319.26 146.30,318.79 146.90,318.73 147.50,319.01 148.10,318.69 148.70,319.42 149.30,318.83 149.90,318.90 150.50,318.99 151.10,319.09 151.70,319.01 152.30,319.17 152.90,319.19 153.50,318.98 154.10,318.67 154.70,319.45 155.30,319.18 155.90,318.62 156.50,318.93 157.10,319.21 157.70,319.41 158.30,318.57 158.90,318.50 159.50,318.92 160.10,318.86 160.70,319.27 161.30,319.20 161.90,318.74 162.50,318.81 163.10,318.95 163.70,319.21 164.30,318.59 164.90,318.75 165.50,318.46 166.10,318.95 166.70,318.39 167.30,319.19 167.90,318.83 168.50,318.88 169.10,318.45 169.70,318.60 170.30,318.82 170.90,319.18 171.50,318.90 172.10,318.69 172.70,319.32 173.30,319.04 173.90,318.94 174.50,318.65 175.10,318.75 175.70,319.30 176.30,318.62 176.90,318.99 177.50,319.08 178.10,318.85 178.70,319.23 179.30,319.37 179.90,319.33 180.50,319.24 181.10,318.77 181.70,318.65 182.30,318.99 182.90,318.90 183.50,318.80 184.10,319.42 184.70,318.84 185.30,319.40 185.90,319.51 186.50,318.78 187.10,319.51 187.70,319.05 188.30,318.90 188.90,318.89 189.50,318.76 190.10,319.19 190.70,319.09 191.30,319.51 191.90,319.48 192.50,318.76 193.10,319.06 193.70,319.04 194.30,318.84 194.90,318.89 195.50,318.89 196.10,319.26 196.70,318.93 197.30,318.71 197.90,318.80 198.50,318.98 199.10,319.08 199.70,318.78 200.30,319.18 200.90,318.73 201.50,319.13 202.10,319.06 202.70,318.65 203.30,319.16 203.90,318.82 204.50,318.94 205.10,318.98 205.70,319.00 206.30,318.82 206.90,318.46 207.50,319.10 208.10,319.15 208.70,318.81 209.30,318.88 209.90,318.58 210.50,319.14 211.10,318.93 211.70,318.50 212.30,319.03 212.90,319.17 213.50,318.58 214.10,319.15 214.70,318.63 215.30,318.28 215.90,318.69 216.50,318.28 217.10,318.57 217.70,318.36 218.30,317.86 218.90,318.17 219.50,318.39 220.10,317.98 220.70,317.96 221.30,318.18 221.90,317.74 222.50,317.71 223.10,317.72 223.70,317.86 224.30,317.23 224.90,317.06 225.50,317.59 226.10,317.34 226.70,317.06 227.30,317.54 227.90,317.48 228.50,317.12 229.10,317.47 229.70,317.28 230.30,317.15 230.90,316.68 231.50,316.38 232.10,316.93 232.70,316.93 233.30,316.53 233.90,316.59 234.50,316.62 235.10,316.28 235.70,316.63 236.30,316.46 236.90,316.25 237.50,315.95 238.10,316.30 238.70,316.04 239.30,316.35 239.90,315.80 240.50,315.95 241.10,315.72 241.70,315.86 242.30,315.96 242.90,315.49 243.50,315.39 244.10,315.72 244.70,315.42 245.30,315.64 245.90,315.29 246.50,315.18 247.10,315.52 247.70,315.81 248.30,315.71 248.90,315.34 249.50,315.19 250.10,314.84 250.70,314.98 251.30,314.96 251.90,315.47 252.50,314.68 253.10,315.38 253.70,314.90 254.30,314.81 254.90,314.61 255.50,315.18 256.10,314.43 256.70,314.74 257.30,314.66 257.90,314.34 258.50,314.33 259.10,314.99 259.70,314.78 260.30,314.70 260.90,314.82 261.50,314.06 262.10,314.57 262.70,314.58 263.30,314.08 263.90,314.26 264.50,314.69 265.10,314.07 265.70,314.43 266.30,313.86 266.90,314.28 267.50,313.89 268.10,314.08 268.70,313.92 269.30,314.34 269.90,314.19 270.50,313.94 271.10,314.08 271.70,313.81 272.30,314.12 272.90,313.59 273.50,313.82 274.10,313.83 274.70,313.62 275.30,313.28 275.90,313.36 276.50,313.75 277.10,313.33 277.70,313.79 278.30,313.53 278.90,313.90 279.50,313.77 280.10,313.63 280.70,313.28 281.30,312.95 281.90,313.38 282.50,313.52 283.10,313.59 283.70,312.85 284.30,312.73 284.90,313.38 285.50,313.07 286.10,312.75 286.70,312.89 287.30,312.27 287.90,312.54 288.50,312.56 289.10,312.41 289.70,311.93 290.30,311.82 290.90,312.17 291.50,312.31 292.10,311.55 292.70,311.34 293.30,311.32 293.90,311.87 294.50,311.42 295.10,311.39 295.70,311.79 296.30,311.35 296.90,310.95 297.50,311.26 298.10,310.54 298.70,310.70 299.30,310.99 299.90,310.42 300.50,310.21 301.10,310.56 301.70,310.30 302.30,310.79 302.90,309.92 303.50,310.46 304.10,310.00 304.70,310.28 305.30,309.87 305.90,309.98 306.50,309.59 307.10,309.40 307.70,309.52 308.30,309.74 308.90,309.25 309.50,309.09 310.10,309.20 310.70,308.85 311.30,308.99 311.90,309.16 312.50,309.08 313.10,309.06 313.70,308.73 314.30,308.43 314.90,308.37 315.50,308.59 316.10,308.41 316.70,308.68 317.30,308.35 317.90,308.74 318.50,308.53 319.10,308.53 319.70,308.53 320.30,308.28 320.90,308.14 321.50,307.97 322.10,307.69 322.70,308.29 323.30,307.97 323.90,307.55 324.50,308.23 325.10,307.86 325.70,307.84 326.30,307.61 326.90,307.27 327.50,308.00 328.10,307.19 328.70,307.31 329.30,307.82 329.90,306.97 330.50,307.25 331.10,307.18 331.70,306.91 332.30,307.46 332.90,306.94 333.50,306.52 334.10,306.88 334.70,306.39 335.30,306.95 335.90,306.99 336.50,306.91 337.10,306.03 337.70,306.48 338.30,306.04 338.90,306.08 339.50,305.82 340.10,305.71 340.70,305.45 341.30,305.78 341.90,305.19 342.50,305.87 343.10,304.93 343.70,305.65 344.30,304.84 344.90,304.64 345.50,305.12 346.10,304.82 346.70,304.92 347.30,304.58 347.90,304.58 348.50,303.98 349.10,304.40 349.70,304.15 350.30,304.44 350.90,303.47 351.50,303.42 352.10,303.86 352.70,303.97 353.30,303.41 353.90,303.56 354.50,303.31 355.10,303.05 355.70,303.01 356.30,303.02 356.90,302.40 357.50,302.54 358.10,302.82 358.70,302.28 359.30,302.36 359.90,302.05 360.50,302.04 361.10,302.19 361.70,302.17 362.30,302.26 362.90,301.73 363.50,301.38 364.10,301.40 364.70,301.05 365.30,301.11 365.90,301.32 366.50,301.24 367.10,300.81 367.70,300.66 368.30,300.48 368.90,300.45 369.50,300.64 370.10,300.32 370.70,300.78 371.30,300.40 371.90,300.09 372.50,300.07 373.10,299.62 373.70,300.14 374.30,300.06 374.90,299.61 375.50,299.84 376.10,299.33 376.70,299.18 377.30,299.09 377.90,298.96 378.50,299.22 379.10,299.16 379.70,299.13 380.30,298.47 380.90,298.96 381.50,298.60 382.10,298.41 382.70,298.43 383.30,298.26 383.90,297.95 384.50,298.03 385.10,298.15 385.70,298.11 386.30,298.19 386.90,297.44 387.50,297.97 388.10,297.78 388.70,297.60 389.30,297.73 389.90,296.86 390.50,297.33 391.10,297.33 391.70,296.53 392.30,296.85 392.90,297.06 393.50,296.36 394.10,296.76 394.70,296.70 395.30,296.17 395.90,295.80 396.50,295.75 397.10,296.20 397.70,295.73 398.30,295.52 398.90,295.53 399.50,295.86 400.10,295.15 400.70,294.83 401.30,295.56 401.90,294.88 402.50,294.84 403.10,295.26 403.70,294.53 404.30,294.25 404.90,294.86 405.50,294.17 406.10,294.05 406.70,294.58 407.30,293.84 407.90,294.34 408.50,293.72 409.10,293.58 409.70,293.40 410.30,293.58 410.90,293.47 411.50,293.20 412.10,293.17 412.70,292.86 413.30,293.22 413.90,293.18 414.50,292.89 415.10,292.83 415.70,292.03 416.30,292.07 416.90,291.90 417.50,291.73 418.10,292.34 418.70,292.16 419.30,292.04 419.90,291.60 420.50,291.08 421.10,291.23 421.70,290.77 422.30,291.41 422.90,290.71 423.50,290.61 424.10,291.08 424.70,290.28 425.30,290.81 425.90,290.13 426.50,290.32 427.10,289.70 427.70,290.29 428.30,289.71 428.90,289.54 429.50,289.69 430.10,289.51 430.70,289.08 431.30,288.84 431.90,289.12 432.50,288.50 433.10,289.14 433.70,288.54 434.30,288.26 434.90,288.28 435.50,287.96 436.10,288.02 436.70,288.10 437.30,287.85 437.90,287.66 438.50,287.50 439.10,287.55 439.70,287.70 440.30,287.28 440.90,287.47 441.50,287.10 442.10,286.66 442.70,286.60 443.30,287.10 443.90,286.66 444.50,286.46 445.10,286.47 445.70,286.66 446.30,286.12 446.90,286.00 447.50,285.89 448.10,285.46 448.70,285.83 449.30,285.67 449.90,285.57 450.50,285.42 451.10,285.33 451.70,285.44 452.30,284.85 452.90,285.46 453.50,284.57 454.10,285.13 454.70,284.40 455.30,284.85 455.90,284.26 456.50,283.98 457.10,284.29 457.70,284.45 458.30,284.34 458.90,284.26 459.50,284.25 460.10,283.30 460.70,283.48 461.30,283.13 461.90,283.60 462.50,283.22 463.10,283.37 463.70,283.31 464.30,283.38 464.90,282.98 465.50,283.05 466.10,282.65 466.70,282.12 467.30,282.74 467.90,281.91 468.50,281.78 469.10,282.31 469.70,281.68 470.30,281.88 470.90,281.17 471.50,281.19 472.10,281.51 472.70,280.76 473.30,281.04 473.90,281.29 474.50,280.49 475.10,280.80 475.70,280.69 476.30,280.44 476.90,280.43 477.50,280.23 478.10,279.47 478.70,279.49 479.30,279.66 479.90,279.91 480.50,279.09 481.10,279.29 481.70,278.73 482.30,279.24 482.90,278.74 483.50,278.67 484.10,278.66 484.70,278.04 485.30,278.43 485.90,278.36 486.50,278.27 487.10,277.61 487.70,277.43 488.30,277.22 488.90,277.75 489.50,277.19 490.10,277.01 490.70,276.98 491.30,277.00 491.90,276.52 492.50,276.40 493.10,276.64 493.70,276.51 494.30,275.94 494.90,275.60 495.50,276.23 496.10,275.91 496.70,275.65 497.30,275.34 497.90,275.70 498.50,275.08 499.10,274.75 499.70,274.50 500.30,274.59 500.90,274.67 501.50,274.32 502.10,274.70 502.70,274.30 503.30,273.98 503.90,274.02 504.50,273.83 505.10,273.71 505.70,273.44 506.30,273.30 506.90,273.11 507.50,273.26 508.10,272.52 508.70,272.90 509.30,272.30 509.90,272.63 510.50,271.78 511.10,271.99 511.70,271.79 512.30,271.87 512.90,271.25 513.50,271.15 514.10,270.87 514.70,271.10 515.30,270.95 515.90,270.27 516.50,270.27 517.10,270.13 517.70,270.65 518.30,270.04 518.90,269.98 519.50,269.57 520.10,269.75 520.70,269.72 521.30,269.44 521.90,268.67 522.50,268.91 523.10,268.79 523.70,268.23 524.30,268.74 524.90,268.16 525.50,267.98 526.10,268.12 526.70,267.92 527.30,267.68 527.90,267.85 528.50,267.38 529.10,267.06 529.70,266.65 530.30,266.93 530.90,266.60 531.50,266.60 532.10,266.27 532.70,265.80 533.30,265.67 533.90,265.62 534.50,265.40 535.10,265.92 535.70,265.52 536.30,265.05 536.90,265.31 537.50,265.09 538.10,264.41 538.70,264.87 539.30,264.24 539.90,264.77 540.50,263.84 541.10,263.81 541.70,263.62 542.30,264.01 542.90,263.81 543.50,263.44 544.10,262.89 544.70,262.99 545.30,263.09 545.90,262.37 546.50,263.01 547.10,262.79 547.70,262.73 548.30,262.38 548.90,262.16 549.50,262.34 550.10,261.57 550.70,261.46 551.30,261.15 551.90,261.06 552.50,261.48 553.10,260.70 553.70,261.14 554.30,260.69 554.90,260.98 555.50,260.73 556.10,260.52 556.70,260.52 557.30,259.66 557.90,259.72 558.50,259.67 559.10,259.58 559.70,259.66 560.30,259.70 560.90,259.44 561.50,259.46 562.10,259.11 562.70,258.66 563.30,258.66 563.90,258.73 564.50,258.65 565.10,258.11 565.70,257.95 566.30,258.04 566.90,257.56 567.50,258.00 568.10,257.07 568.70,257.51 569.30,257.22 569.90,256.82 570.50,257.01 571.10,256.78 571.70,257.08 572.30,256.87 572.90,256.46 573.50,256.57 574.10,256.44 574.70,255.65 575.30,256.11 575.90,255.97 576.50,255.97 577.10,255.62 577.70,255.15 578.30,254.84 578.90,255.10 579.50,254.56 580.10,254.91 580.70,254.64 581.30,254.76 581.90,254.23 582.50,254.08 583.10,254.51 583.70,254.19 584.30,253.83 584.90,253.88 585.50,253.67 586.10,253.75 586.70,253.53 587.30,253.21 587.90,253.73 588.50,253.54 589.10,253.32 589.70,252.78 590.30,252.60 590.90,252.96 591.50,252.88 592.10,252.58 592.70,252.03 593.30,252.33 593.90,251.99 594.50,251.70 595.10,251.74 595.70,251.46 596.30,251.49 596.90,251.43 597.50,251.48 598.10,250.54 598.70,250.80 599.30,250.98 599.90,250.57 600.50,250.34 601.10,250.43 601.70,249.54 602.30,250.07 602.90,249.76 603.50,249.57 604.10,249.17 604.70,249.29 605.30,248.69 605.90,248.90 606.50,248.50 607.10,248.95 607.70,248.69 608.30,248.23 608.90,248.33 609.50,247.84 610.10,247.81 610.70,247.33 611.30,247.80 611.90,247.56 612.50,247.41 613.10,246.64 613.70,247.15 614.30,246.27 614.90,246.61 615.50,246.39 616.10,245.85 616.70,246.02 617.30,246.28 617.90,245.89 618.50,245.46 619.10,245.75 619.70,245.18 620.30,245.52 620.90,244.91 621.50,244.47 622.10,245.12 622.70,244.16 623.30,244.17 623.90,244.49 624.50,243.74 625.10,243.98 625.70,244.11 626.30,243.71 626.90,243.35 627.50,243.56 628.10,243.47 628.70,243.10 629.30,242.99 629.90,242.56 630.50,242.49 631.10,242.86 631.70,242.69 632.30,241.67 632.90,241.69 633.50,241.56 634.10,241.92 634.70,241.24 635.30,241.06 635.90,241.44 636.50,240.75 637.10,241.33 637.70,240.71 638.30,240.95 638.90,240.73 639.50,240.03 640.10,240.40 640.70,239.91 641.30,239.58 641.90,239.27 642.50,239.71 643.10,239.43 643.70,239.05 644.30,239.37 644.90,238.65 645.50,238.72 646.10,238.25 646.70,238.33 647.30,238.66 647.90,238.16 648.50,237.70 649.10,237.62 649.70,237.84 650.30,237.36 650.90,237.75 651.50,236.86 652.10,237.43 652.70,237.06 653.30,237.09 653.90,236.51 654.50,236.10 655.10,236.04 655.70,236.30 656.30,235.61 656.90,235.53 657.50,235.99 658.10,235.92 658.70,235.75 659.30,235.58" fill="none" stroke="#3d4eb0" stroke-width="1.1" stroke-linejoin="round"/>
<rect x="106.7" y="150.6" width="242.6" height="68.6" fill="#fff8e3" stroke="#9b967f" stroke-width="1.3"/>
<rect x="395.4" y="150.6" width="227.3" height="68.6" fill="#ffe1e5" stroke="#938181" stroke-width="1.2"/>
<rect x="145" y="159.6" width="73.6" height="35.70000000000002" fill="#fff" stroke="#444" stroke-width="1"/>
<polyline points="148.4,194.0 152.2,186.4 155.4,194.0 158.8,192.4 162.6,190.2 166.0,193.4 169.3,186.4 173.1,183.9 176.5,181.4 179.7,185.8 183.5,178.8 187.3,176.3 190.7,173.5 194.9,171.6 197.7,169.3 200.9,163.0 204.4,166.4 207.8,167.4 212.0,170.2 214.8,171.2" fill="none" stroke="#e0332f" stroke-width="1.1" stroke-linejoin="round"/>
<path d="M142.7,159.6H145M142.7,177.45H145M142.7,195.3H145M148.4,195.3V197.3M218.0,195.3V197.3" stroke="#444" stroke-width="0.9"/>
<text x="140.0" y="163.1" font-size="10.5" text-anchor="end">1.5</text>
<text x="140.0" y="180.9" font-size="10.5" text-anchor="end">1.1</text>
<text x="140.0" y="198.8" font-size="10.5" text-anchor="end">0.7</text>
<text x="148.70000000000002" y="207.5" font-size="10.5" text-anchor="middle">60</text>
<text x="218.3" y="207.5" font-size="10.5" text-anchor="middle">80</text>
<text transform="translate(118.70,185.70) rotate(-90)" font-size="15" font-style="italic" font-weight="normal">D</text>
<text transform="translate(123.60,174.20) rotate(-90)" font-size="9" font-style="italic" font-weight="normal">B</text>
<text x="176.20" y="210.90" font-size="15" font-style="italic">N<tspan font-size="11" dy="4.5">S</tspan></text>
<rect x="266.4" y="159.6" width="73.40000000000003" height="35.70000000000002" fill="#fff" stroke="#444" stroke-width="1"/>
<polyline points="270.0,185.8 274.0,179.2 277.2,176.9 280.4,175.0 283.8,170.2 287.6,173.5 291.0,176.3 294.6,174.4 298.1,171.9 301.5,174.4 304.7,176.3 308.5,174.4 311.9,171.9 315.5,169.7 318.9,177.6 322.3,170.2 325.9,171.6 329.4,176.6 333.2,170.2 336.6,173.8" fill="none" stroke="#3d4eb0" stroke-width="1.1" stroke-linejoin="round"/>
<path d="M264.09999999999997,159.6H266.4M264.09999999999997,177.45H266.4M264.09999999999997,195.3H266.4M270.0,195.3V197.3M339.4,195.3V197.3" stroke="#444" stroke-width="0.9"/>
<text x="262.6" y="163.1" font-size="10.5" text-anchor="end">0.9</text>
<text x="262.6" y="180.9" font-size="10.5" text-anchor="end">0.5</text>
<text x="262.6" y="198.8" font-size="10.5" text-anchor="end">0.1</text>
<text x="270.3" y="207.5" font-size="10.5" text-anchor="middle">60</text>
<text x="339.7" y="207.5" font-size="10.5" text-anchor="middle">80</text>
<text transform="translate(240.00,186.60) rotate(-90)" font-size="15" font-style="italic" font-weight="normal">D</text>
<text transform="translate(244.90,175.10) rotate(-90)" font-size="9" font-style="italic" font-weight="normal">F</text>
<text x="297.50" y="210.90" font-size="15" font-style="italic">N<tspan font-size="11" dy="4.5">S</tspan></text>
<rect x="429.3" y="159.6" width="73.59999999999997" height="35.70000000000002" fill="#fff" stroke="#444" stroke-width="1"/>
<polyline points="432.1,180.1 435.5,181.1 439.0,178.2 443.1,175.9 446.5,176.3 450.3,177.3 453.6,174.4 457.4,172.5 460.6,173.1 464.0,173.5 467.8,170.6 471.6,168.3 475.0,168.7 478.2,169.3 482.0,166.3 485.8,164.4 489.1,164.9 492.5,165.9 495.9,162.6 499.7,160.2" fill="none" stroke="#e0332f" stroke-width="1.1" stroke-linejoin="round"/>
<path d="M427.0,159.6H429.3M427.0,195.3H429.3M432.1,195.3V197.3M502.3,195.3V197.3" stroke="#444" stroke-width="0.9"/>
<text x="424.8" y="163.1" font-size="10.5" text-anchor="end">34</text>
<text x="424.8" y="198.8" font-size="10.5" text-anchor="end">32</text>
<text x="432.40000000000003" y="207.5" font-size="10.5" text-anchor="middle">900</text>
<text x="502.6" y="207.5" font-size="10.5" text-anchor="middle">920</text>
<text transform="translate(407.80,185.80) rotate(-90)" font-size="15" font-style="italic" font-weight="normal">D</text>
<text transform="translate(412.70,174.30) rotate(-90)" font-size="9" font-style="italic" font-weight="normal">B</text>
<text x="460.50" y="210.90" font-size="15" font-style="italic">N<tspan font-size="11" dy="4.5">S</tspan></text>
<rect x="539.3" y="159.6" width="73.60000000000002" height="35.70000000000002" fill="#fff" stroke="#444" stroke-width="1"/>
<polyline points="542.1,183.5 545.5,181.1 549.3,178.2 553.1,178.8 556.5,179.5 560.3,176.9 563.6,174.4 567.4,175.0 570.6,175.4 574.0,173.1 577.4,170.2 581.2,171.0 584.4,171.6 588.2,169.3 592.0,166.4 595.4,167.2 598.7,167.8 602.5,165.5 605.9,162.6 609.1,163.4" fill="none" stroke="#3d4eb0" stroke-width="1.1" stroke-linejoin="round"/>
<path d="M537.0,159.6H539.3M537.0,195.3H539.3M542.1,195.3V197.3M612.3,195.3V197.3" stroke="#444" stroke-width="0.9"/>
<text x="534.2" y="168.3" font-size="10.5" text-anchor="end">26</text>
<text x="534.2" y="198.8" font-size="10.5" text-anchor="end">24</text>
<text x="542.4" y="207.5" font-size="10.5" text-anchor="middle">900</text>
<text x="612.5999999999999" y="207.5" font-size="10.5" text-anchor="middle">920</text>
<text transform="translate(519.00,186.60) rotate(-90)" font-size="15" font-style="italic" font-weight="normal">D</text>
<text transform="translate(523.90,175.10) rotate(-90)" font-size="9" font-style="italic" font-weight="normal">F</text>
<text x="570.50" y="210.90" font-size="15" font-style="italic">N<tspan font-size="11" dy="4.5">S</tspan></text>
<path d="M74.3,327.2 V149.0 H660.5 V327.2" fill="none" stroke="#8a8878" stroke-width="1"/>
<path d="M660.5,149.0 V327.2 H74.3" fill="none" stroke="#333" stroke-width="1"/>
<path d="M72.0,321.30H74.3M72.0,292.60H74.3M72.0,263.90H74.3M72.0,235.20H74.3M72.0,206.50H74.3M72.0,177.80H74.3M72.0,149.10H74.3M74.30,327.2V329.7M191.54,327.2V329.7M308.78,327.2V329.7M426.02,327.2V329.7M543.26,327.2V329.7M660.50,327.2V329.7" stroke="#333" stroke-width="0.9"/>
<text x="67.8" y="325.80" font-size="13.6" text-anchor="end">0</text>
<text x="67.8" y="297.10" font-size="13.6" text-anchor="end">10</text>
<text x="67.8" y="268.40" font-size="13.6" text-anchor="end">20</text>
<text x="67.8" y="239.70" font-size="13.6" text-anchor="end">30</text>
<text x="67.8" y="211.00" font-size="13.6" text-anchor="end">40</text>
<text x="67.8" y="182.30" font-size="13.6" text-anchor="end">50</text>
<text x="67.8" y="153.60" font-size="13.6" text-anchor="end">60</text>
<text x="75.00" y="341.2" font-size="13.6" text-anchor="middle">0</text>
<text x="192.24" y="341.2" font-size="13.6" text-anchor="middle">200</text>
<text x="309.48" y="341.2" font-size="13.6" text-anchor="middle">400</text>
<text x="426.72" y="341.2" font-size="13.6" text-anchor="middle">600</text>
<text x="543.96" y="341.2" font-size="13.6" text-anchor="middle">800</text>
<text x="661.20" y="341.2" font-size="13.6" text-anchor="middle">1000</text>
<text x="360.20" y="347.00" font-size="15" font-style="italic">N<tspan font-size="11" dy="4.5">S</tspan></text>
<text transform="translate(41.40,258.80) rotate(-90)" font-size="15.5" font-style="italic" font-weight="normal">D</text>
<text transform="translate(46.30,247.60) rotate(-90)" font-size="9.5" font-style="italic" font-weight="normal">B</text>
<text transform="translate(46.60,241.20) rotate(-90)" font-size="8" font-style="italic" font-weight="normal">,</text>
<text transform="translate(41.40,236.00) rotate(-90)" font-size="15.5" font-style="italic" font-weight="normal">D</text>
<text transform="translate(46.30,224.20) rotate(-90)" font-size="9.5" font-style="italic" font-weight="normal">F</text>
<text x="8.6" y="164.2" font-size="16">(b)</text>
<text x="-0.5" y="380.3" font-size="16">(c)</text>
<text x="368.5" y="380.3" font-size="16">(d)</text>
<rect x="33.4" y="368.8" width="323" height="172" rx="14" fill="none" stroke="#f6ee8b" stroke-width="3.8"/>
<rect x="402.3" y="368.8" width="281.6" height="172" rx="14" fill="none" stroke="#fd8b8d" stroke-width="3.8"/>
<rect x="67.9" y="383.6" width="5" height="128" fill="#5aacdb"/>
<path d="M62.300000000000004,511.4 H78.5 L70.4,524.7 Z" fill="#5aacdb"/>
<rect x="431.2" y="383.6" width="5" height="128" fill="#5aacdb"/>
<path d="M425.59999999999997,511.4 H441.8 L433.7,524.7 Z" fill="#5aacdb"/>
<text transform="translate(57.50,507.20) rotate(-90)" font-size="13.7" font-style="normal" font-weight="bold">Approaching Gait</text>
<text transform="translate(420.40,510.90) rotate(-90)" font-size="13.7" font-style="normal" font-weight="bold">Synchronizing Gait</text>
<path d="M107.5,398.3 H180.8" stroke="#333" stroke-width="1.1"/>
<circle cx="107.5" cy="398.3" r="6.4" fill="url(#rl)"/>
<circle cx="134.8" cy="398.3" r="6.4" fill="url(#rl)"/>
<circle cx="180.8" cy="398.3" r="6.4" fill="url(#rl)"/>
<path d="M143,387.7 H155.6 M160.6,387.7 H173.2" stroke="#777" stroke-width="0.9" stroke-dasharray="1.3,0.9"/>
<path d="M156.6,387.7 L150.6,385.3 L152.29999999999998,387.7 L150.6,390.09999999999997 Z" fill="#2a2a2a"/>
<path d="M159.6,387.7 L165.6,385.3 L163.9,387.7 L165.6,390.09999999999997 Z" fill="#2a2a2a"/>
<path d="M113.5,434.5 H168.9" stroke="#333" stroke-width="1.1"/>
<circle cx="113.5" cy="434.5" r="6.4" fill="url(#rl)"/>
<circle cx="141" cy="434.5" r="6.4" fill="url(#rl)"/>
<circle cx="168.9" cy="434.5" r="6.4" fill="url(#rl)"/>
<path d="M122.1,426 H133.4" stroke="#777" stroke-width="0.9" stroke-dasharray="1.3,0.9"/>
<path d="M118.1,426 L124.1,423.6 L122.39999999999999,426 L124.1,428.4 Z" fill="#2a2a2a"/>
<path d="M137.4,426 L131.4,423.6 L133.1,426 L131.4,428.4 Z" fill="#2a2a2a"/>
<path d="M101.8,471 H175.9" stroke="#333" stroke-width="1.1"/>
<circle cx="101.8" cy="471" r="6.4" fill="url(#rl)"/>
<circle cx="148.2" cy="471" r="6.4" fill="url(#rl)"/>
<circle cx="175.9" cy="471" r="6.4" fill="url(#rl)"/>
<path d="M156.6,459.8 H167.9" stroke="#777" stroke-width="0.9" stroke-dasharray="1.3,0.9"/>
<path d="M152.6,459.8 L158.6,457.40000000000003 L156.9,459.8 L158.6,462.2 Z" fill="#2a2a2a"/>
<path d="M171.9,459.8 L165.9,457.40000000000003 L167.6,459.8 L165.9,462.2 Z" fill="#2a2a2a"/>
<path d="M96,507.7 H187.4" stroke="#777" stroke-width="1.6"/>
<circle cx="96" cy="507.7" r="6.4" fill="url(#rl)"/>
<circle cx="141.5" cy="507.7" r="6.4" fill="url(#rl)"/>
<circle cx="187.4" cy="507.7" r="6.4" fill="url(#rl)"/>
<path d="M103.8,496.5 H116.25 M121.25,496.5 H133.7" stroke="#777" stroke-width="0.9" stroke-dasharray="1.3,0.9"/>
<path d="M117.25,496.5 L111.25,494.1 L112.95,496.5 L111.25,498.9 Z" fill="#2a2a2a"/>
<path d="M120.25,496.5 L126.25,494.1 L124.55,496.5 L126.25,498.9 Z" fill="#2a2a2a"/>
<path d="M261.6,398.4 H316.5" stroke="#333" stroke-width="1.1"/>
<circle cx="261.6" cy="398.4" r="6.4" fill="url(#bl)"/>
<circle cx="289.2" cy="398.4" r="6.4" fill="url(#bl)"/>
<circle cx="316.5" cy="398.4" r="6.4" fill="url(#bl)"/>
<path d="M297.3,387.6 H308.8" stroke="#777" stroke-width="0.9" stroke-dasharray="1.3,0.9"/>
<path d="M293.3,387.6 L299.3,385.20000000000005 L297.6,387.6 L299.3,390.0 Z" fill="#2a2a2a"/>
<path d="M312.8,387.6 L306.8,385.20000000000005 L308.5,387.6 L306.8,390.0 Z" fill="#2a2a2a"/>
<path d="M254.7,434.4 H328.2" stroke="#333" stroke-width="1.1"/>
<circle cx="254.7" cy="434.4" r="6.4" fill="url(#bl)"/>
<circle cx="282.4" cy="434.4" r="6.4" fill="url(#bl)"/>
<circle cx="328.2" cy="434.4" r="6.4" fill="url(#bl)"/>
<path d="M290.9,426.4 H302.95 M307.95,426.4 H320" stroke="#777" stroke-width="0.9" stroke-dasharray="1.3,0.9"/>
<path d="M303.95,426.4 L297.95,424.0 L299.65,426.4 L297.95,428.79999999999995 Z" fill="#2a2a2a"/>
<path d="M306.95,426.4 L312.95,424.0 L311.25,426.4 L312.95,428.79999999999995 Z" fill="#2a2a2a"/>
<path d="M261.5,471.2 H316.6" stroke="#333" stroke-width="1.1"/>
<circle cx="261.5" cy="471.2" r="6.4" fill="url(#bl)"/>
<circle cx="289" cy="471.2" r="6.4" fill="url(#bl)"/>
<circle cx="316.6" cy="471.2" r="6.4" fill="url(#bl)"/>
<path d="M297.5,460 H308.8" stroke="#777" stroke-width="0.9" stroke-dasharray="1.3,0.9"/>
<path d="M293.5,460 L299.5,457.6 L297.8,460 L299.5,462.4 Z" fill="#2a2a2a"/>
<path d="M312.8,460 L306.8,457.6 L308.5,460 L306.8,462.4 Z" fill="#2a2a2a"/>
<path d="M254.9,508 H328.6" stroke="#888" stroke-width="1.6"/>
<circle cx="254.9" cy="508" r="6.4" fill="url(#bl)"/>
<circle cx="282.6" cy="508" r="6.4" fill="url(#bl)"/>
<circle cx="328.6" cy="508" r="6.4" fill="url(#bl)"/>
<path d="M291.3,496.3 H303.6 M308.6,496.3 H320.9" stroke="#777" stroke-width="0.9" stroke-dasharray="1.3,0.9"/>
<path d="M304.6,496.3 L298.6,493.90000000000003 L300.3,496.3 L298.6,498.7 Z" fill="#2a2a2a"/>
<path d="M307.6,496.3 L313.6,493.90000000000003 L311.90000000000003,496.3 L313.6,498.7 Z" fill="#2a2a2a"/>
<path d="M468.5,397.6 H541.5" stroke="#888" stroke-width="1.6"/>
<circle cx="468.5" cy="397.6" r="6.4" fill="url(#rl)"/>
<circle cx="495.8" cy="397.6" r="6.4" fill="url(#rl)"/>
<circle cx="541.5" cy="397.6" r="6.4" fill="url(#rl)"/>
<path d="M503.8,387.7 H516.15 M521.15,387.7 H533.5" stroke="#777" stroke-width="0.9" stroke-dasharray="1.3,0.9"/>
<path d="M517.15,387.7 L511.15,385.3 L512.85,387.7 L511.15,390.09999999999997 Z" fill="#2a2a2a"/>
<path d="M520.15,387.7 L526.15,385.3 L524.4499999999999,387.7 L526.15,390.09999999999997 Z" fill="#2a2a2a"/>
<path d="M474.1,434.2 H529.5" stroke="#333" stroke-width="1.1"/>
<circle cx="474.1" cy="434.2" r="6.4" fill="url(#rl)"/>
<circle cx="501.4" cy="434.2" r="6.4" fill="url(#rl)"/>
<circle cx="529.5" cy="434.2" r="6.4" fill="url(#rl)"/>
<path d="M482.1,426.2 H493.9" stroke="#777" stroke-width="0.9" stroke-dasharray="1.3,0.9"/>
<path d="M478.1,426.2 L484.1,423.8 L482.40000000000003,426.2 L484.1,428.59999999999997 Z" fill="#2a2a2a"/>
<path d="M497.9,426.2 L491.9,423.8 L493.59999999999997,426.2 L491.9,428.59999999999997 Z" fill="#2a2a2a"/>
<path d="M461.9,471 H535.8" stroke="#555" stroke-width="1.1"/>
<circle cx="461.9" cy="471" r="6.4" fill="url(#rl)"/>
<circle cx="508" cy="471" r="6.4" fill="url(#rl)"/>
<circle cx="535.8" cy="471" r="6.4" fill="url(#rl)"/>
<path d="M516.2,459.6 H527.1" stroke="#777" stroke-width="0.9" stroke-dasharray="1.3,0.9"/>
<path d="M512.2,459.6 L518.2,457.20000000000005 L516.5,459.6 L518.2,462.0 Z" fill="#2a2a2a"/>
<path d="M531.1,459.6 L525.1,457.20000000000005 L526.8000000000001,459.6 L525.1,462.0 Z" fill="#2a2a2a"/>
<path d="M456.6,507.8 H548.6" stroke="#666" stroke-width="1.3"/>
<circle cx="456.6" cy="507.8" r="6.4" fill="url(#rl)"/>
<circle cx="502.5" cy="507.8" r="6.4" fill="url(#rl)"/>
<circle cx="548.6" cy="507.8" r="6.4" fill="url(#rl)"/>
<path d="M464.5,496.4 H476.75 M481.75,496.4 H494" stroke="#777" stroke-width="0.9" stroke-dasharray="1.3,0.9"/>
<path d="M477.75,496.4 L471.75,494.0 L473.45,496.4 L471.75,498.79999999999995 Z" fill="#2a2a2a"/>
<path d="M480.75,496.4 L486.75,494.0 L485.05,496.4 L486.75,498.79999999999995 Z" fill="#2a2a2a"/>
<path d="M584.6,397.4 H639.7" stroke="#888" stroke-width="1.6"/>
<circle cx="584.6" cy="397.4" r="6.4" fill="url(#bl)"/>
<circle cx="612.4" cy="397.4" r="6.4" fill="url(#bl)"/>
<circle cx="639.7" cy="397.4" r="6.4" fill="url(#bl)"/>
<path d="M592.3,387.7 H603.8" stroke="#777" stroke-width="0.9" stroke-dasharray="1.3,0.9"/>
<path d="M588.3,387.7 L594.3,385.3 L592.5999999999999,387.7 L594.3,390.09999999999997 Z" fill="#2a2a2a"/>
<path d="M607.8,387.7 L601.8,385.3 L603.5,387.7 L601.8,390.09999999999997 Z" fill="#2a2a2a"/>
<path d="M571.9,433.9 H645.2" stroke="#555" stroke-width="1.1"/>
<circle cx="571.9" cy="433.9" r="6.4" fill="url(#bl)"/>
<circle cx="618" cy="433.9" r="6.4" fill="url(#bl)"/>
<circle cx="645.2" cy="433.9" r="6.4" fill="url(#bl)"/>
<path d="M626,426.2 H637.6" stroke="#777" stroke-width="0.9" stroke-dasharray="1.3,0.9"/>
<path d="M622,426.2 L628,423.8 L626.3,426.2 L628,428.59999999999997 Z" fill="#2a2a2a"/>
<path d="M641.6,426.2 L635.6,423.8 L637.3000000000001,426.2 L635.6,428.59999999999997 Z" fill="#2a2a2a"/>
<path d="M566.8,471 H658" stroke="#777" stroke-width="1.4"/>
<circle cx="566.8" cy="471" r="6.4" fill="url(#bl)"/>
<circle cx="612.4" cy="471" r="6.4" fill="url(#bl)"/>
<circle cx="658" cy="471" r="6.4" fill="url(#bl)"/>
<path d="M574.6,459.5 H586.7 M591.7,459.5 H603.8" stroke="#777" stroke-width="0.9" stroke-dasharray="1.3,0.9"/>
<path d="M587.7,459.5 L581.7,457.1 L583.4000000000001,459.5 L581.7,461.9 Z" fill="#2a2a2a"/>
<path d="M590.7,459.5 L596.7,457.1 L595.0,459.5 L596.7,461.9 Z" fill="#2a2a2a"/>
<path d="M579.5,508 H652.7" stroke="#666" stroke-width="1.3"/>
<circle cx="579.5" cy="508" r="6.4" fill="url(#bl)"/>
<circle cx="606.5" cy="508" r="6.4" fill="url(#bl)"/>
<circle cx="652.7" cy="508" r="6.4" fill="url(#bl)"/>
<path d="M614.7,496.5 H627.3 M632.3,496.5 H644.9" stroke="#777" stroke-width="0.9" stroke-dasharray="1.3,0.9"/>
<path d="M628.3,496.5 L622.3,494.1 L624.0,496.5 L622.3,498.9 Z" fill="#2a2a2a"/>
<path d="M631.3,496.5 L637.3,494.1 L635.5999999999999,496.5 L637.3,498.9 Z" fill="#2a2a2a"/>
</svg></body></html>
